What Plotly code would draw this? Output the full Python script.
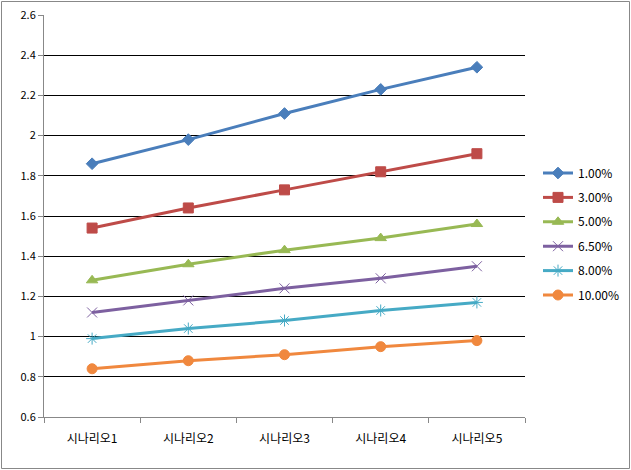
import plotly.graph_objects as go

categories = ["시나리오1", "시나리오2", "시나리오3", "시나리오4", "시나리오5"]
series_names = ["1.00%", "3.00%", "5.00%", "6.50%", "8.00%", "10.00%"]
s1 = [1.86, 1.98, 2.11, 2.23, 2.34]
s3 = [1.54, 1.64, 1.73, 1.82, 1.91]
s5 = [1.28, 1.36, 1.43, 1.49, 1.56]
s65 = [1.12, 1.18, 1.24, 1.29, 1.35]
s8 = [0.99, 1.04, 1.08, 1.13, 1.17]
s10 = [0.84, 0.88, 0.91, 0.95, 0.98]
values = [s1, s3, s5, s65, s8, s10]
y_ticks = [0.6, 0.8, 1.0, 1.2, 1.4, 1.6, 1.8, 2.0, 2.2, 2.4, 2.6]
y_tick_labels = ["0.6", "0.8", "1", "1.2", "1.4", "1.6", "1.8", "2", "2.2", "2.4", "2.6"]

colors = ["#4A7EBB", "#BE4B48", "#98B954", "#7D60A0", "#46AAC5", "#F0883E"]
symbols = ["diamond", "square", "triangle-up", "x-thin-open", "asterisk-open", "circle"]
sizes = [9, 10, 10, 10, 10, 10]

W, H = 631, 470
L, R, T, B = 44, 106, 15, 53
pw, ph = W - L - R, H - T - B

fig = go.Figure()
legend_layout = {}
for i, (name, vals, c, s, sz) in enumerate(zip(series_names, values, colors, symbols, sizes)):
    key = "legend" if i == 0 else f"legend{i + 1}"
    fig.add_trace(go.Scatter(
        x=categories, y=vals, name=name, mode="lines+markers",
        line=dict(color=c, width=3),
        marker=dict(symbol=s, size=sz, color=c, line=dict(color=c, width=1)),
        legend=key,
    ))
    cy = 173 + i * 24.4
    legend_layout[key] = dict(
        x=(538 - L) / pw, y=(H - B - cy) / ph, xanchor="left", yanchor="middle",
        font=dict(size=12, color="black"), bgcolor="rgba(0,0,0,0)",
        itemwidth=30, borderwidth=0,
    )

fig.update_layout(
    width=W, height=H,
    margin=dict(l=L, r=R, t=T, b=B, autoexpand=False),
    paper_bgcolor="white", plot_bgcolor="white",
    font=dict(family="Noto Sans CJK KR, DejaVu Sans", size=11, color="black"),
    showlegend=True,
    xaxis=dict(
        type="category", range=[-0.5, 4.5], showgrid=False, automargin=False,
        showline=True, linecolor="#888888", linewidth=1,
        ticks="outside", tickson="boundaries", ticklen=5, tickcolor="#888888",
        tickfont=dict(size=12, color="black"), ticklabelstandoff=11,
    ),
    yaxis=dict(
        range=[0.6, 2.6], tickvals=y_ticks, ticktext=y_tick_labels, automargin=False,
        showgrid=True, gridcolor="black", gridwidth=1,
        showline=True, linecolor="#888888", linewidth=1,
        ticks="outside", ticklen=5, tickcolor="#888888",
        tickfont=dict(size=11, color="black"), zeroline=False,
    ),
    **legend_layout,
)

fig.add_shape(type="rect", xref="paper", yref="paper",
              x0=(1.5 - L) / pw, x1=(W - 1.5 - L) / pw,
              y0=(H - B - (H - 1.5)) / ph, y1=(H - B - 1.5) / ph,
              line=dict(color="#888888", width=1), layer="above")

fig.write_html("out.html")
